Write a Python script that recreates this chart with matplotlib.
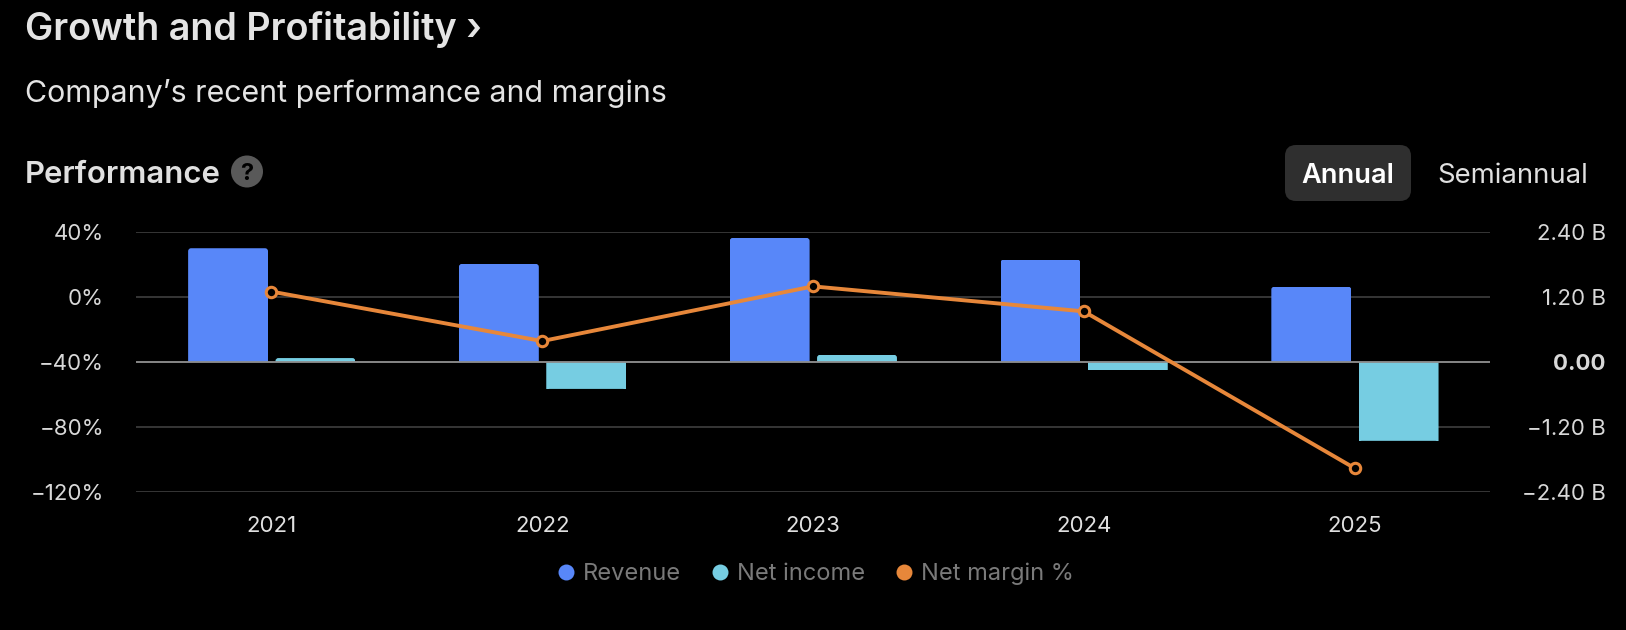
import matplotlib
matplotlib.use("Agg")
import matplotlib.pyplot as plt
import numpy as np
from matplotlib.patches import FancyBboxPatch, Circle
from matplotlib.lines import Line2D

years = ["2021", "2022", "2023", "2024", "2025"]
revenue = [2.10, 1.81, 2.29, 1.89, 1.39]
net_income = [0.07, -0.50, 0.13, -0.155, -1.46]
net_margin = [3.3, -27.2, 6.5, -8.9, -105.5]
left_ticks = [40, 0, -40, -80, -120]
left_labels = ["40%", "0%", "\u221240%", "\u221280%", "\u2212120%"]
right_ticks = [2.4, 1.2, 0, -1.2, -2.4]
right_labels = ["2.40 B", "1.20 B", "0.00", "\u22121.20 B", "\u22122.40 B"]

BLUE = "#5887F9"
CYAN = "#76CDE2"
ORANGE = "#E7873A"
W, H = 1626, 630
plt.rcParams["font.family"] = ["Inter", "DejaVu Sans"]

fig = plt.figure(figsize=(W / 100, H / 100), dpi=100, facecolor="black")

# page furniture in pixel coordinates
bg = fig.add_axes([0, 0, 1, 1], zorder=0)
bg.set_xlim(0, W); bg.set_ylim(H, 0); bg.axis("off")
bg.text(25, 26, "Growth and Profitability \u203a", color="#E4E4E4", fontsize=27.2,
        fontweight="semibold", va="center_baseline")
bg.text(25, 90, "Company\u2019s recent performance and margins", color="#E4E4E4",
        fontsize=21.9, va="center_baseline")
bg.text(25, 172, "Performance", color="#E0E0E0", fontsize=22.4, fontweight="semibold",
        va="center_baseline")
bg.add_patch(Circle((247, 171.5), 16, color="#595959", lw=0))
bg.text(247, 171.5, "?", color="black", fontsize=17, fontweight="bold", ha="center",
        va="center_baseline")
bg.add_patch(FancyBboxPatch((1295, 155), 106, 36, boxstyle="round,pad=10,rounding_size=11",
                            fc="#2F2F2F", ec="none"))
bg.text(1348, 173, "Annual", color="white", fontsize=19.5, fontweight="semibold", ha="center",
        va="center_baseline")
bg.text(1513, 173, "Semiannual", color="#E0E0E0", fontsize=19.8, ha="center", va="center_baseline")

# bars on the right axis
rect = [136 / W, (H - 491.7) / H, 1354 / W, 259.7 / H]
ax_r = fig.add_axes(rect, zorder=1)
ax_r.set_facecolor("none")
x = np.arange(len(years))
width = 0.295
ax_r.set_xlim(-0.5, 4.5)
ax_r.set_ylim(-2.4, 2.4)
bars_rev = ax_r.bar(x - 0.160, revenue, width=width, color=BLUE, linewidth=0, zorder=3)
bars_inc = ax_r.bar(x + 0.1625, net_income, width=width, color=CYAN, linewidth=0, zorder=3)

# round the far corners of each bar with a clip outline
aspect = (4.8 / 259.7) / (5 / 1354)
for bar in list(bars_rev) + list(bars_inc):
    x0, y0, w, h = bar.get_x(), bar.get_y(), bar.get_width(), bar.get_height()
    extra = 0.1 if h >= 0 else -0.1
    clip = FancyBboxPatch((x0, y0 - extra), w, h + extra,
                          boxstyle="round,pad=0,rounding_size=0.011",
                          mutation_aspect=aspect, transform=ax_r.transData)
    bar.set_clip_path(clip)

ax_r.set_yticks(right_ticks, right_labels)
ax_r.yaxis.tick_right()
ax_r.set_xticks(x, years)
ax_r.tick_params(axis="y", length=0, pad=83.5, labelsize=16, labelcolor="#D8D8D8")
ax_r.tick_params(axis="x", length=0, pad=17.5, labelsize=16, labelcolor="#E0E0E0")
for lab in ax_r.get_yticklabels():
    lab.set_ha("right")
ax_r.get_yticklabels()[2].set_fontweight("bold")
ax_r.grid(axis="y", color="#3A3A3A", linewidth=1.3, zorder=1)
ax_r.set_axisbelow(True)
ax_r.axhline(0, color="#8C8C8C", linewidth=1.3, zorder=4)
for s in ax_r.spines.values():
    s.set_visible(False)

# margin line on the left axis
ax_l = fig.add_axes(rect, zorder=2)
ax_l.set_facecolor("none")
ax_l.plot(x, net_margin, color=ORANGE, linewidth=2.8, marker="o", markersize=7.5,
          markerfacecolor="black", markeredgecolor=ORANGE, markeredgewidth=2.2, zorder=5)
ax_l.set_xlim(-0.5, 4.5)
ax_l.set_ylim(-120, 40)
ax_l.set_xticks([])
ax_l.set_yticks(left_ticks, left_labels)
ax_l.tick_params(axis="y", length=0, pad=23, labelsize=16, labelcolor="#D8D8D8")
for s in ax_l.spines.values():
    s.set_visible(False)

handles = [Line2D([], [], ls="none", marker="o", ms=11.5, color=c, mew=0) for c in (BLUE, CYAN, ORANGE)]
leg = ax_l.legend(handles, ["Revenue", "Net income", "Net margin %"], loc="center",
                  bbox_to_anchor=((811.5 - 136) / 1354, -82 / 259.7), ncol=3, frameon=False,
                  fontsize=17, labelcolor="#7A7A7A", handletextpad=0.0, columnspacing=0.97,
                  handlelength=1.4)

fig.savefig("out.png", dpi=100, facecolor="black")
